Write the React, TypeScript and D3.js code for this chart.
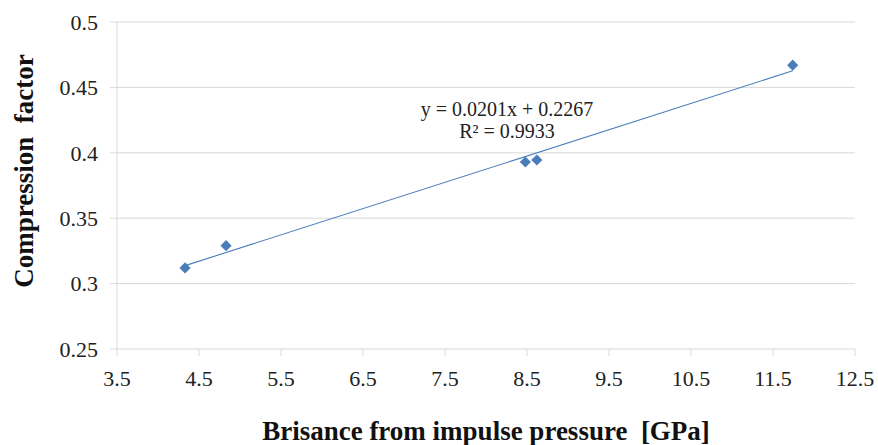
import React from "react";
import * as d3 from "d3";

// measured points
const brisance = [4.33, 4.83, 8.48, 8.62, 11.74];
const compression = [0.312, 0.329, 0.393, 0.3945, 0.467];

const xTicks = [3.5, 4.5, 5.5, 6.5, 7.5, 8.5, 9.5, 10.5, 11.5, 12.5];
const yTicks = [0.25, 0.3, 0.35, 0.4, 0.45, 0.5];

const slope = 0.0201;
const intercept = 0.2267;
const eqLines = ["y = 0.0201x + 0.2267", "R² = 0.9933"];

const size = { width: 878, height: 445 };
const plot = { left: 117, right: 855, top: 22, bottom: 349 };

const font = "'Liberation Serif', 'Times New Roman', serif";
const blue = "#4a7ebb";
const grid = "#d9d9d9";

export default function App() {
  const x = d3.scaleLinear().domain([3.5, 12.5]).range([plot.left, plot.right]);
  const y = d3.scaleLinear().domain([0.25, 0.5]).range([plot.bottom, plot.top]);

  const xMin = d3.min(brisance) as number;
  const xMax = d3.max(brisance) as number;
  const trend = d3.line<number>()
    .x((d) => x(d))
    .y((d) => y(slope * d + intercept))([xMin, xMax]);

  // excel-style diamond: a square turned 45deg
  const marker = d3.symbol().type(d3.symbolSquare).size(62)() as string;

  return (
    <svg width={size.width} height={size.height}
      style={{ position: "absolute", left: 0, top: 0, background: "white" }}>
      {yTicks.map((t) => (
        <g key={`y${t}`}>
          <line x1={plot.left - 7} x2={plot.right} y1={y(t)} y2={y(t)}
            stroke={grid} strokeWidth={1} />
          <text x={plot.left - 19} y={y(t)} dy="0.35em" textAnchor="end"
            fontFamily={font} fontSize={22} fill="#222">{t}</text>
        </g>
      ))}
      <line x1={plot.left} x2={plot.left} y1={plot.top} y2={plot.bottom}
        stroke={grid} strokeWidth={1} />
      {xTicks.map((t) => (
        <g key={`x${t}`}>
          <line x1={x(t)} x2={x(t)} y1={plot.bottom} y2={plot.bottom + 7}
            stroke={grid} strokeWidth={1} />
          <text x={x(t)} y={plot.bottom + 29} dy="0.35em" textAnchor="middle"
            fontFamily={font} fontSize={22} fill="#222">{t}</text>
        </g>
      ))}

      <path d={trend ?? ""} fill="none" stroke={blue} strokeWidth={1.1} />

      {brisance.map((b, i) => (
        <path key={`pt${i}`} d={marker}
          transform={`translate(${x(b)},${y(compression[i])}) rotate(45)`} fill={blue} />
      ))}

      <text x={507} y={109} dy="0.35em" textAnchor="middle"
        fontFamily={font} fontSize={20} fill="#222">{eqLines[0]}</text>
      <text x={507} y={131} dy="0.35em" textAnchor="middle"
        fontFamily={font} fontSize={20} fill="#222">{eqLines[1]}</text>

      <text transform={`translate(33,171) rotate(-90)`}
        textAnchor="middle" fontFamily={font} fontSize={27}
        fontWeight="bold" fill="#111" style={{ whiteSpace: "pre" }}>Compression  factor</text>
      <text x={486} y={440} textAnchor="middle" fontFamily={font}
        fontSize={27} fontWeight="bold" fill="#111"
        style={{ whiteSpace: "pre" }}>Brisance from impulse pressure  [GPa]</text>
    </svg>
  );
}
